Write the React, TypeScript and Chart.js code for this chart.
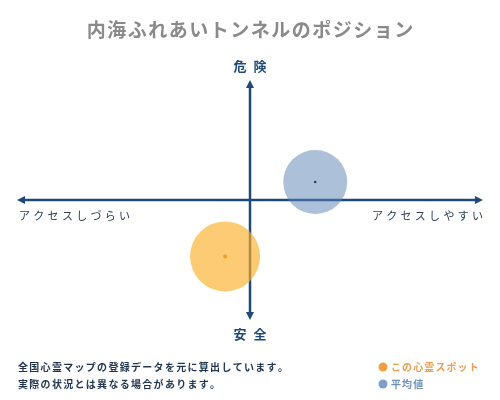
import React, { useEffect, useRef } from "react";
import { Chart, registerables } from "chart.js";

Chart.register(...registerables);

const TITLE = "内海ふれあいトンネルのポジション";
const TOP_LABEL = "危険";
const BOTTOM_LABEL = "安全";
const LEFT_LABEL = "アクセスしづらい";
const RIGHT_LABEL = "アクセスしやすい";
const NOTES = ["全国心霊マップの登録データを元に算出しています。", "実際の状況とは異なる場合があります。"];
const SERIES = ["この心霊スポット", "平均値"];
const X_VALUES = [-1.07, 2.8];
const Y_VALUES = [-4.7, 1.5];

const FONT = '"Noto Sans CJK JP", "Noto Sans", sans-serif';
const NAVY = "#1d4a7a";

function spaced(ctx: CanvasRenderingContext2D, text: string, x: number, y: number, gap: number, align: "left" | "center" | "right") {
  const chars = Array.from(text);
  const widths = chars.map((c) => ctx.measureText(c).width);
  const total = widths.reduce((a, b) => a + b, 0) + gap * (chars.length - 1);
  let cx = align === "left" ? x : align === "center" ? x - total / 2 : x - total;
  ctx.textAlign = "left";
  chars.forEach((c, i) => {
    ctx.fillText(c, cx, y);
    cx += widths[i] + gap;
  });
}

const decor = {
  id: "decor",
  beforeDatasetsDraw(chart: any) {
    const ctx = chart.ctx as CanvasRenderingContext2D;
    const xs = chart.scales.x;
    const ys = chart.scales.y;
    const x0 = xs.getPixelForValue(0);
    const y0 = ys.getPixelForValue(0);
    const l = xs.left, r = xs.right, t = ys.top, b = ys.bottom;
    ctx.save();
    ctx.strokeStyle = NAVY;
    ctx.fillStyle = NAVY;
    ctx.lineWidth = 2.5;
    ctx.beginPath();
    ctx.moveTo(l + 4, y0); ctx.lineTo(r - 4, y0);
    ctx.moveTo(x0, t + 4); ctx.lineTo(x0, b - 4);
    ctx.stroke();
    const a = 8, w = 4;
    ctx.beginPath();
    ctx.moveTo(l, y0); ctx.lineTo(l + a, y0 - w); ctx.lineTo(l + a, y0 + w); ctx.closePath();
    ctx.moveTo(r, y0); ctx.lineTo(r - a, y0 - w); ctx.lineTo(r - a, y0 + w); ctx.closePath();
    ctx.moveTo(x0, t); ctx.lineTo(x0 - w, t + a); ctx.lineTo(x0 + w, t + a); ctx.closePath();
    ctx.moveTo(x0, b); ctx.lineTo(x0 - w, b - a); ctx.lineTo(x0 + w, b - a); ctx.closePath();
    ctx.fill();
    ctx.restore();
  },
  afterDraw(chart: any) {
    const ctx = chart.ctx as CanvasRenderingContext2D;
    const xs = chart.scales.x;
    const ys = chart.scales.y;
    const x0 = xs.getPixelForValue(0);
    const y0 = ys.getPixelForValue(0);
    ctx.save();
    ctx.textBaseline = "middle";
    ctx.fillStyle = "#8a8a8a";
    ctx.font = `bold 19px ${FONT}`;
    spaced(ctx, TITLE, 250, 30, 1.5, "center");

    ctx.fillStyle = NAVY;
    ctx.font = `bold 13px ${FONT}`;
    spaced(ctx, TOP_LABEL, x0, 66, 7, "center");
    spaced(ctx, BOTTOM_LABEL, x0, ys.bottom + 14, 7, "center");

    ctx.font = `11px ${FONT}`;
    ctx.fillStyle = "#2a3a55";
    spaced(ctx, LEFT_LABEL, xs.left + 2, y0 + 16, 3.3, "left");
    spaced(ctx, RIGHT_LABEL, xs.right, y0 + 16, 3.3, "right");

    ctx.font = `bold 10px ${FONT}`;
    ctx.fillStyle = "#1f3550";
    spaced(ctx, NOTES[0], 18, 367, 1.3, "left");
    spaced(ctx, NOTES[1], 18, 384, 1.3, "left");

    const legendColors = ["#f0a040", "#7fa0c6"];
    const textColors = ["#e8a050", "#6f93bd"];
    SERIES.forEach((s, i) => {
      const y = 367 + i * 17;
      ctx.beginPath();
      ctx.fillStyle = legendColors[i];
      ctx.arc(383, y, 4.5, 0, Math.PI * 2);
      ctx.fill();
      ctx.fillStyle = textColors[i];
      ctx.font = `bold 10px ${FONT}`;
      spaced(ctx, s, 391, y, 1.1, "left");
    });
    ctx.restore();
  },
};

export default function App() {
  const ref = useRef<HTMLCanvasElement>(null);
  useEffect(() => {
    document.body.style.margin = "0";
    const fills = ["rgba(252,175,40,0.65)", "rgba(90,130,180,0.5)"];
    const dots = ["#f0a020", "#1f3a5a"];
    const radii = [35, 32];
    const dotR = [2, 1.2];
    const datasets: any[] = [];
    SERIES.forEach((s, i) => {
      datasets.push({
        label: s,
        data: [{ x: X_VALUES[i], y: Y_VALUES[i] }],
        pointRadius: radii[i],
        backgroundColor: fills[i],
        borderWidth: 0,
        order: 2,
      });
    });
    SERIES.forEach((s, i) => {
      datasets.push({
        label: s + " center",
        data: [{ x: X_VALUES[i], y: Y_VALUES[i] }],
        pointRadius: dotR[i],
        backgroundColor: dots[i],
        borderWidth: 0,
        order: 1,
      });
    });
    const chart = new Chart(ref.current!, {
      type: "scatter",
      data: { datasets },
      options: {
        responsive: false,
        animation: false,
        layout: { autoPadding: false, padding: { left: 17, right: 17, top: 80, bottom: 80 } },
        scales: {
          x: { display: false, min: -10, max: 10 },
          y: { display: false, min: -10, max: 10 },
        },
        plugins: { legend: { display: false }, title: { display: false }, tooltip: { enabled: false } },
        events: [],
      },
      plugins: [decor],
    });
    return () => chart.destroy();
  }, []);
  return <canvas ref={ref} width={500} height={400} style={{ display: "block" }} />;
}
